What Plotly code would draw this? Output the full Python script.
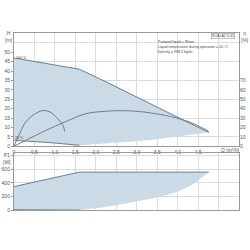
import plotly.graph_objects as go

# ---- data ----
# max-speed H curve (Q m3/h, H m)
q_hmax = [0, 0.5, 1.0, 1.6, 2.2, 2.73, 3.3, 3.9, 4.3, 4.76]
h_hmax = [47, 45.2, 43.3, 41, 34.8, 29, 22.7, 16.5, 12.2, 7.4]
# min-speed (25 %) H curve
q_hmin = [0, 0.5, 1.0, 1.6]
h_hmin = [3.2, 2.6, 1.7, 0.5]
# right-hand lower limit of operating area
q_hlim = [1.6, 2.2, 2.73, 3.34, 3.9, 4.3, 4.76]
h_hlim = [0.5, 1.4, 2.2, 3.3, 4.8, 6.0, 7.4]
# efficiency curves (eta %)
q_eta1 = [0, 0.12, 0.29, 0.5, 0.71, 0.9, 1.02, 1.2, 1.24]
eta1 = [0, 11.6, 26, 34, 38, 36, 31.6, 22, 15.8]
q_eta2 = [0, 0.29, 0.78, 1.27, 1.76, 2.12, 2.61, 3.1, 3.59, 3.83, 4.32, 4.76]
eta2 = [0, 6.3, 16.8, 26.3, 34.7, 36.8, 37.9, 36.8, 33.7, 31.6, 25.3, 15.8]
# P1 curves (W)
q_pmax = [0, 1.6, 4.76]
p_max = [345, 555, 555]
q_pmin = [0, 0.5, 1.0, 1.6]
p_min = [10, 9, 7, 5]
q_plim = [1.6, 2.2, 2.73, 3.54, 4.0, 4.37, 4.76]
p_lim = [8, 45, 100, 196, 270, 376, 555]

x_ticks = [0, 0.5, 1.0, 1.5, 2.0, 2.5, 3.0, 3.5, 4.0, 4.5, 5.0]
x_text = ["0", "0.5", "1.0", "1.5", "2.0", "2.5", "3.0", "3.5", "4.0", "4.5", ""]
h_ticks = [0, 5, 10, 15, 20, 25, 30, 35, 40, 45, 50]
eta_ticks = [0, 10, 20, 30, 40, 50, 60, 70]
p_ticks = [0, 200, 400, 600, 800]
p_text = ["0", "200", "400", "600", ""]

FILL = "#cbdae7"
LINE = "#6b7d8c"
GRID = "#dcdcdc"
AX = "#9a9a9a"
TXT = "#555555"
FONT = "Liberation Sans"

fig = go.Figure()

# operating area (top)
fx = q_hmax + q_hlim[::-1] + q_hmin[::-1]
fy = h_hmax + h_hlim[::-1] + h_hmin[::-1]
fig.add_trace(go.Scatter(x=fx, y=fy, fill="toself", fillcolor=FILL,
                         line=dict(width=0), mode="lines", hoverinfo="skip",
                         xaxis="x", yaxis="y"))
fig.add_trace(go.Scatter(x=q_hmax, y=h_hmax, mode="lines",
                         line=dict(color=LINE, width=1), xaxis="x", yaxis="y"))
fig.add_trace(go.Scatter(x=q_hmin, y=h_hmin, mode="lines",
                         line=dict(color=LINE, width=1), xaxis="x", yaxis="y"))
fig.add_trace(go.Scatter(x=q_eta1, y=eta1, mode="lines", line_shape="spline",
                         line=dict(color=LINE, width=1), xaxis="x", yaxis="y2"))
fig.add_trace(go.Scatter(x=q_eta2, y=eta2, mode="lines", line_shape="spline",
                         line=dict(color=LINE, width=1), xaxis="x", yaxis="y2"))

# P1 area (bottom)
px_ = q_pmax + q_plim[::-1] + q_pmin[::-1]
py_ = p_max + p_lim[::-1] + p_min[::-1]
fig.add_trace(go.Scatter(x=px_, y=py_, fill="toself", fillcolor=FILL,
                         line=dict(width=0), mode="lines", hoverinfo="skip",
                         xaxis="x2", yaxis="y3"))
fig.add_trace(go.Scatter(x=q_pmax, y=p_max, mode="lines",
                         line=dict(color=LINE, width=1), xaxis="x2", yaxis="y3"))
fig.add_trace(go.Scatter(x=q_pmin, y=p_min, mode="lines",
                         line=dict(color=LINE, width=1), xaxis="x2", yaxis="y3"))

tickfont = dict(family=FONT, size=5, color=TXT)
common_x = dict(range=[0, 5.5], tickvals=x_ticks, ticktext=x_text,
                showgrid=True, gridcolor=GRID, gridwidth=1, zeroline=False,
                showline=True, linecolor=AX, linewidth=1, mirror=True,
                ticks="", tickfont=tickfont, domain=[13 / 250, 239 / 250])

fig.update_layout(
    width=250, height=250, margin=dict(l=0, r=0, t=0, b=0),
    paper_bgcolor="white", plot_bgcolor="white", showlegend=False,
    xaxis=dict(common_x, anchor="y", ticklabelstandoff=1),
    yaxis=dict(domain=[1 - 148 / 250, 1 - 33 / 250], range=[0, 60.5],
               tickvals=h_ticks, showgrid=False, zeroline=False,
               showline=True, linecolor=AX, mirror=True,
               ticks="outside", ticklen=2, tickcolor=AX, tickfont=tickfont,
               minor=dict(tickvals=[5, 15, 25, 35, 45, 55], showgrid=True,
                          gridcolor=GRID, ticks="")),
    yaxis2=dict(overlaying="y", side="right", anchor="x", range=[0, 121],
                tickvals=eta_ticks, showgrid=False, zeroline=False,
                showline=False, ticks="", tickfont=tickfont),
    xaxis2=dict(common_x, anchor="y3", showticklabels=False, matches="x"),
    yaxis3=dict(domain=[1 - 213 / 250, 1 - 155 / 250], range=[0, 830],
                tickvals=p_ticks, ticktext=p_text, showgrid=True,
                gridcolor=GRID, zeroline=False, showline=True, linecolor=AX,
                mirror=True, ticks="outside", ticklen=2, tickcolor=AX,
                tickfont=tickfont),
)

small = dict(family=FONT, size=3.6, color="#444444")
lab = dict(family=FONT, size=5, color=TXT)
ann = [
    dict(x=8 / 250, y=1 - 37 / 250, text="H<br>[m]", font=lab),
    dict(x=245 / 250, y=1 - 37 / 250, text="η<br>[%]", font=lab),
    dict(x=6 / 250, y=1 - 160 / 250, text="P1<br>[W]", font=lab),
    dict(x=230 / 250, y=1 - 152 / 250, text="Q [m³/h]", font=lab),
    dict(x=21 / 250, y=1 - 59 / 250, text="100 %", font=small),
    dict(x=19 / 250, y=1 - 140 / 250, text="25 %", font=small),
    dict(x=223 / 250, y=1 - 36 / 250, text="SCALA2 3-45", font=small,
         bordercolor="#888888", borderwidth=0.5, borderpad=0.5),
    dict(x=156 / 250, y=1 - 43 / 250, xanchor="left",
         text="Pumped liquid = Water", font=small),
    dict(x=156 / 250, y=1 - 48 / 250, xanchor="left",
         text="Liquid temperature during operation = 20 °C", font=small),
    dict(x=156 / 250, y=1 - 52.5 / 250, xanchor="left",
         text="Density = 998.2 kg/m³", font=small),
]
for a in ann:
    a.setdefault("xanchor", "center")
    fig.add_annotation(xref="paper", yref="paper", showarrow=False,
                       yanchor="middle", **a)

fig.write_html("out.html")
